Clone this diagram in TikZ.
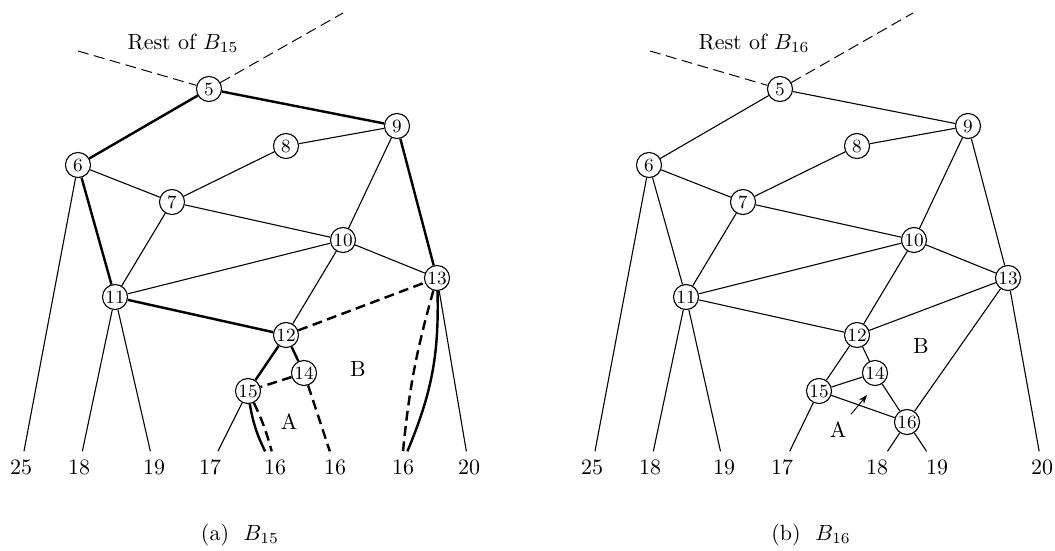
\documentclass[tikz,border=0pt]{standalone}
\usetikzlibrary{arrows.meta}
\begin{document}
\begin{tikzpicture}[x=0.455pt,y=-0.455pt,
  vtx/.style={circle,draw,line width=0.5pt,fill=white,inner sep=0pt,minimum size=11.4pt,font=\fontsize{8.5}{10}\selectfont},
  leaf/.style={inner sep=3.5pt},
  e/.style={line width=0.5pt},
  te/.style={line width=1.1pt},
  td/.style={line width=1.1pt,dash pattern=on 4.5pt off 2.5pt},
  ld/.style={line width=0.45pt,dash pattern=on 5pt off 2.5pt}]
\useasboundingbox (0,0) rectangle (1055,550);
% ---------------- (a) ----------------
\node[vtx] (a5) at (209,89) {5};
\node[vtx] (a9) at (397,126) {9};
\node[vtx] (a6) at (78,165) {6};
\node[vtx] (a8) at (286,146) {8};
\node[vtx] (a7) at (172,202) {7};
\node[vtx] (a10) at (343,240) {10};
\node[vtx] (a13) at (437,278) {13};
\node[vtx] (a11) at (115,297) {11};
\node[vtx] (a12) at (286,335) {12};
\node[vtx] (a14) at (304,373) {14};
\node[vtx] (a15) at (248,391) {15};
\node[leaf] (al25) at (21,467) {25};
\node[leaf] (al18) at (79,467) {18};
\node[leaf] (al19) at (154,467) {19};
\node[leaf] (al17) at (210,467) {17};
\node[leaf] (al16a) at (275,467) {16};
\node[leaf] (al16b) at (335,467) {16};
\node[leaf] (al16c) at (403,467) {16};
\node[leaf] (al20) at (469,467) {20};
\node[anchor=base] (arest) at (183,49) {Rest of $B_{15}$};
\node (aA) at (289,422) {A};
\node (aB) at (358,369) {B};
\node[anchor=base] (acap) at (240,540) {(a)\ \ $B_{15}$};
\coordinate (aul) at (78,51);
\coordinate (aur) at (343,13);
\draw[ld] (aul) -- (a5) -- (aur);
\draw[te] (a6) -- (a5) -- (a9);
\draw[e] (a9) -- (a8) -- (a7);
\draw[e] (a6) -- (a7);
\draw[te] (a6) -- (a11);
\draw[e] (a6) -- (al25);
\draw[e] (a7) -- (a11);
\draw[e] (a7) -- (a10);
\draw[e] (a9) -- (a10);
\draw[te] (a9) -- (a13);
\draw[e] (a10) -- (a11);
\draw[e] (a10) -- (a12);
\draw[e] (a10) -- (a13);
\draw[te] (a11) -- (a12);
\draw[e] (a11) -- (al18);
\draw[e] (a11) -- (al19);
\draw[td] (a12) -- (a13);
\draw[te] (a12) -- (a15);
\draw[te] (a12) -- (a14);
\draw[td] (a14) -- (a15);
\draw[e] (a15) -- (al17);
\draw[te] (a15) to[bend right=8] ([xshift=-4.5pt]al16a.north);
\draw[td] (a15) to[bend left=5] ([xshift=-1.5pt]al16a.north);
\draw[td] (a14) -- (al16b);
\draw[td] (a13) to[bend right=5] (al16c.north);
\draw[te] (a13) to[bend left=12] ([xshift=2pt]al16c.north);
\draw[e] (a13) -- (al20);
% ---------------- (b) ----------------
\node[vtx] (b5) at (780,89) {5};
\node[vtx] (b9) at (968,126) {9};
\node[vtx] (b6) at (649,165) {6};
\node[vtx] (b8) at (857,146) {8};
\node[vtx] (b7) at (743,202) {7};
\node[vtx] (b10) at (914,240) {10};
\node[vtx] (b13) at (1008,278) {13};
\node[vtx] (b11) at (686,297) {11};
\node[vtx] (b12) at (857,335) {12};
\node[vtx] (b14) at (875,373) {14};
\node[vtx] (b15) at (819,391) {15};
\node[vtx] (b16) at (907,422) {16};
\node[leaf] (bl25) at (592,467) {25};
\node[leaf] (bl18) at (650,467) {18};
\node[leaf] (bl19) at (724,467) {19};
\node[leaf] (bl17) at (782,467) {17};
\node[leaf] (bl18b) at (877,467) {18};
\node[leaf] (bl19b) at (937,467) {19};
\node[leaf] (bl20) at (1042,467) {20};
\node[anchor=base] (brest) at (754,49) {Rest of $B_{16}$};
\node (bA) at (838,430) {A};
\node (bB) at (921,346) {B};
\node[anchor=base] (bcap) at (811,540) {(b)\ \ $B_{16}$};
\coordinate (bul) at (650,51);
\coordinate (bur) at (913,13);
\coordinate (btip) at (867,395);
\draw[ld] (bul) -- (b5) -- (bur);
\draw[e] (b6) -- (b5) -- (b9);
\draw[e] (b9) -- (b8) -- (b7);
\draw[e] (b6) -- (b7);
\draw[e] (b6) -- (b11);
\draw[e] (b6) -- (bl25);
\draw[e] (b7) -- (b11);
\draw[e] (b7) -- (b10);
\draw[e] (b9) -- (b10);
\draw[e] (b9) -- (b13);
\draw[e] (b10) -- (b11);
\draw[e] (b10) -- (b12);
\draw[e] (b10) -- (b13);
\draw[e] (b11) -- (b12);
\draw[e] (b11) -- (bl18);
\draw[e] (b11) -- (bl19);
\draw[e] (b12) -- (b13);
\draw[e] (b12) -- (b15);
\draw[e] (b12) -- (b14);
\draw[e] (b14) -- (b15);
\draw[e] (b14) -- (b16);
\draw[e] (b15) -- (b16);
\draw[e] (b15) -- (bl17);
\draw[e] (b13) -- (b16);
\draw[e] (b16) -- (bl18b);
\draw[e] (b16) -- (bl19b);
\draw[e] (b13) -- (bl20);
\draw[line width=0.4pt,-{Stealth[length=4pt,width=3pt]}] (bA) -- (btip);
\end{tikzpicture}
\end{document}
